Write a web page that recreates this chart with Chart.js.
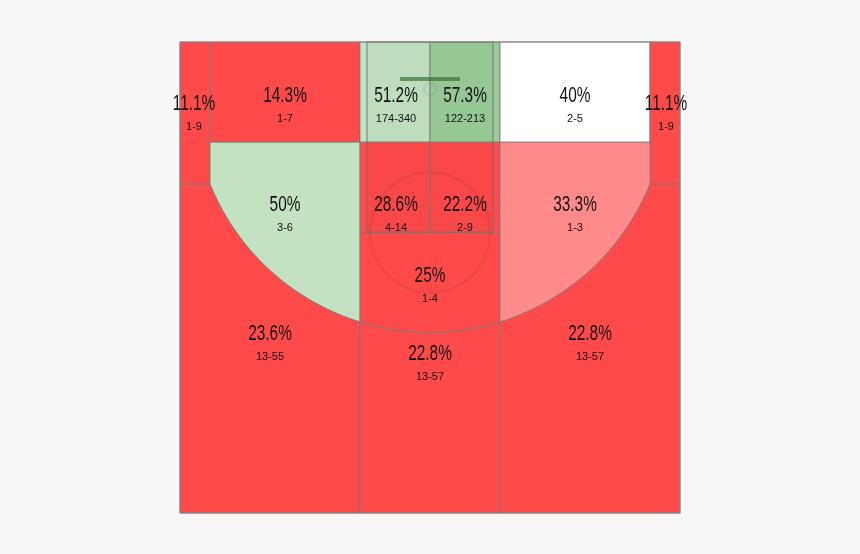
<!DOCTYPE html>
<html><head><meta charset="utf-8">
<script src="https://cdn.jsdelivr.net/npm/chart.js@4/dist/chart.umd.min.js"></script>
<style>html,body{margin:0;padding:0;background:#f7f7f7;}canvas{display:block;}</style>
</head><body>
<canvas id="c" width="860" height="554"></canvas>
<script>
const zoneNames = ["leftCorner","leftBaseline","rimLeft","rimRight","rightBaseline","rightCorner","leftWing","paintLeft","paintRight","middle","rightWing","left3","center3","right3"];
const makes    = [1, 1, 174, 122, 2, 1, 3, 4, 2, 1, 1, 13, 13, 13];
const attempts = [9, 7, 340, 213, 5, 9, 6, 14, 9, 4, 3, 55, 57, 57];
const zoneColors = ["#ff4a4a","#ff4a4a","#c2e2c2","#99cc99","#ffffff","#ff4a4a","#c2e2c2","#ff4a4a","#ff4a4a","#ff4a4a","#ff8a8a","#ff4a4a","#ff4a4a","#ff4a4a"];

const R = 23.75, CY = 5.25;
function arcY(x){ return CY + Math.sqrt(R*R - x*x); }
function arcPts(x0, x1){ const p=[]; const n=60; for(let i=0;i<=n;i++){ const x=x0+(x1-x0)*i/n; p.push([x,arcY(x)]); } return p; }
const shapes = {
  leftCorner: [[-25,0],[-22,0],[-22,arcY(-22)],[-25,arcY(-22)]],
  leftBaseline: [[-22,0],[-7,0],[-7,10],[-22,10]],
  rimLeft: [[-7,0],[0,0],[0,10],[-7,10]],
  rimRight: [[0,0],[7,0],[7,10],[0,10]],
  rightBaseline: [[7,0],[22,0],[22,10],[7,10]],
  rightCorner: [[22,0],[25,0],[25,arcY(22)],[22,arcY(22)]],
  leftWing: [[-22,10],[-7,10]].concat(arcPts(-7,-22)),
  paintLeft: [[-7,10],[0,10],[0,19],[-7,19]],
  paintRight: [[0,10],[7,10],[7,19],[0,19]],
  middle: [[-7,19],[7,19]].concat(arcPts(7,-7)),
  rightWing: [[7,10],[22,10]].concat(arcPts(22,7)),
  left3: [[-25,arcY(-22)],[-25,47],[-7,47]].concat(arcPts(-7,-22)),
  center3: [[-7,47],[7,47]].concat(arcPts(7,-7)),
  right3: [[25,arcY(22)],[25,47],[7,47]].concat(arcPts(7,22))
};
const labelPos = {
  leftCorner:[-23.6,6.2], leftBaseline:[-14.5,5.4], rimLeft:[-3.4,5.4], rimRight:[3.5,5.4],
  rightBaseline:[14.5,5.4], rightCorner:[23.6,6.2], leftWing:[-14.5,16.3], paintLeft:[-3.4,16.3],
  paintRight:[3.5,16.3], middle:[0,23.3], rightWing:[14.5,16.3], left3:[-16,29.1], center3:[0,31.1], right3:[16,29.1]
};

const courtPlugin = {
  id:'court',
  beforeDatasetsDraw(chart){
    const ctx=chart.ctx, xs=chart.scales.x, ys=chart.scales.y;
    const P=(p)=>[xs.getPixelForValue(p[0]), ys.getPixelForValue(p[1])];
    ctx.save();
    zoneNames.forEach((n,i)=>{
      const pts=shapes[n].map(P);
      ctx.beginPath(); ctx.moveTo(pts[0][0],pts[0][1]);
      pts.slice(1).forEach(p=>ctx.lineTo(p[0],p[1])); ctx.closePath();
      ctx.fillStyle=zoneColors[i]; ctx.fill();
      ctx.strokeStyle='rgba(120,120,120,0.8)'; ctx.lineWidth=1; ctx.stroke();
    });
    const a=P([-6.3,0]), b=P([6.3,19]);
    ctx.fillStyle='rgba(0,0,0,0.02)'; ctx.fillRect(a[0],a[1],b[0]-a[0],b[1]-a[1]);
    ctx.strokeStyle='rgba(110,110,110,0.45)'; ctx.lineWidth=2; ctx.strokeRect(a[0],a[1],b[0]-a[0],b[1]-a[1]);
    const fc=P([0,19]); const rpx=xs.getPixelForValue(6)-xs.getPixelForValue(0);
    ctx.beginPath(); ctx.arc(fc[0],fc[1],rpx,0,Math.PI*2); ctx.strokeStyle='rgba(120,40,40,0.12)'; ctx.lineWidth=3; ctx.stroke();
    const bb1=P([-3,3.7]), bb2=P([3,3.7]);
    ctx.beginPath(); ctx.moveTo(bb1[0],bb1[1]); ctx.lineTo(bb2[0],bb2[1]); ctx.strokeStyle='rgba(40,100,40,0.6)'; ctx.lineWidth=4; ctx.stroke();
    const h=P([0,4.7]);
    ctx.beginPath(); ctx.arc(h[0],h[1],6,0,Math.PI*2); ctx.strokeStyle='rgba(120,120,120,0.2)'; ctx.lineWidth=2; ctx.stroke();
    const o1=P([-25,0]), o2=P([25,47]);
    ctx.strokeStyle='#888'; ctx.lineWidth=1; ctx.strokeRect(o1[0],o1[1],o2[0]-o1[0],o2[1]-o1[1]);
    ctx.textAlign='center'; ctx.textBaseline='middle'; ctx.fillStyle='#111';
    zoneNames.forEach((n,i)=>{
      const p=P(labelPos[n]);
      const pct=Math.round(makes[i]/attempts[i]*1000)/10;
      ctx.save(); ctx.translate(p[0],p[1]); ctx.scale(0.7,1);
      ctx.font='22px "Liberation Sans",sans-serif';
      ctx.fillText(pct+'%',0,0); ctx.restore();
      ctx.font='11px "Liberation Sans","Arial",sans-serif';
      ctx.fillText(makes[i]+'-'+attempts[i],p[0],p[1]+23);
    });
    ctx.restore();
  }
};

new Chart(document.getElementById('c'),{
  type:'scatter',
  data:{datasets:[{data:[],pointRadius:0}]},
  options:{
    responsive:false, animation:false,
    layout:{padding:{left:180,right:180,top:42,bottom:41}},
    plugins:{legend:{display:false},tooltip:{enabled:false}},
    scales:{
      x:{type:'linear',min:-25,max:25,display:false},
      y:{type:'linear',min:0,max:47,reverse:true,display:false}
    }
  },
  plugins:[courtPlugin]
});
</script>
</body></html>
